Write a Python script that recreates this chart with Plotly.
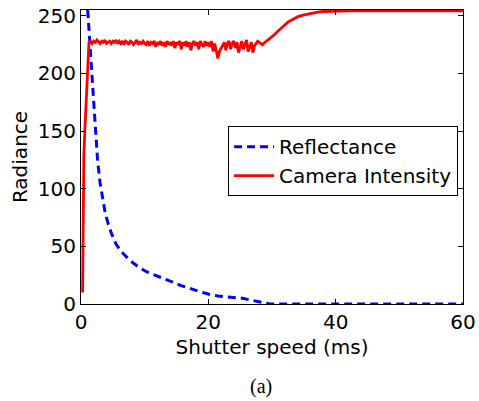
import plotly.graph_objects as go

# Reflectance (blue dashed)
refl_t = [1.05, 1.4, 1.7, 2.2, 2.6, 3.0, 3.4, 3.8, 4.3, 4.8, 5.5, 6.4, 7.3, 8.2, 9.2, 10.3,
          11.6, 12.9, 14.2, 15.5, 17.1, 18.7, 20.1, 21.5, 23.5, 25.4, 26.6, 27.8, 29.7, 45.0, 60.0]
refl_v = [255, 225, 200, 150, 125, 105, 91, 79, 69, 61, 52, 45, 40, 35.5, 31.5, 28,
          25, 22.5, 19.5, 16.4, 13.4, 10.6, 8.5, 7, 5.8, 4.9, 3.5, 2, 0, 0, 0]

# Camera intensity (red solid)
cam_t = [0.25, 0.3, 0.35, 0.45, 0.6, 0.8, 1.0, 1.15,
         1.25, 1.5, 1.75, 2.0, 2.25, 2.5, 2.75, 3.0, 3.25, 3.5, 3.75, 4.0, 4.25, 4.5, 4.75, 5.0,
         5.25, 5.5, 5.75, 6.0, 6.25, 6.5, 6.75, 7.0, 7.25, 7.5, 7.75, 8.0, 8.25, 8.5, 8.75, 9.0, 9.25, 9.5, 9.75, 10.0,
         10.25, 10.5, 10.75, 11.0, 11.25, 11.5, 11.75, 12.0, 12.25, 12.5, 12.75, 13.0, 13.25, 13.5, 13.75, 14.0, 14.25, 14.5, 14.75, 15.0,
         15.25, 15.5, 15.75, 16.0, 16.25, 16.5, 16.75, 17.0, 17.25, 17.5, 17.75, 18.0, 18.25, 18.5, 18.75, 19.0, 19.25, 19.5, 19.75, 20.0,
         20.25, 20.5, 20.75, 21.0, 21.25, 21.5, 21.75, 22.0, 22.25, 22.5, 22.75, 23.0, 23.25, 23.5, 23.75, 24.0, 24.25, 24.5, 24.75, 25.0,
         25.25, 25.5, 25.75, 26.0, 26.25, 26.5, 26.75, 27.0, 27.25, 27.5, 27.75, 28.0,
         28.5, 29.0, 29.5, 30.2, 31.0, 31.8, 32.5, 33.3, 34.0, 34.9, 36.0, 37.0, 38.0, 39.6, 42.0, 60.0]
cam_v = [10, 60, 100, 130, 150, 175, 200, 227,
         227, 228, 226, 228, 227, 229, 227, 226, 228, 227, 229, 226, 227, 228, 226, 228,
         227, 229, 226, 228, 226, 228, 225, 228, 227, 225, 228, 227, 225, 227, 229, 225, 227, 226, 228, 226,
         225, 228, 224, 227, 226, 228, 223, 227, 225, 228, 224, 227, 223, 228, 225, 227, 224, 228, 222, 227,
         225, 228, 221, 227, 224, 228, 223, 227, 220, 226, 228, 224, 227, 221, 228, 225, 223, 228, 224, 227,
         223, 228, 219, 226, 218, 213, 219, 222, 225, 227, 220, 226, 228, 221, 226, 228, 222, 227, 218, 224,
         228, 221, 226, 229, 219, 223, 227, 218, 224, 226, 228, 227,
         225, 227.5, 229.5, 232.7, 237, 241, 244.5, 247, 249, 250.6, 252, 253, 253.7, 254, 254.3, 254.3]

x_ticks = [0, 20, 40, 60]
y_ticks = [0, 50, 100, 150, 200, 250]

FONT = "DejaVu Sans, Arial, sans-serif"

fig = go.Figure()
fig.add_trace(go.Scatter(x=refl_t, y=refl_v, mode="lines", name="Reflectance",
                         line=dict(color="#0000FF", width=3, dash="8px,5px")))
fig.add_trace(go.Scatter(x=cam_t, y=cam_v, mode="lines", name="Camera Intensity",
                         line=dict(color="#FF0000", width=2.8)))

axis_common = dict(showline=True, linecolor="black", linewidth=1, mirror="ticks",
                   ticks="inside", ticklen=5, tickcolor="black", showgrid=False, zeroline=False,
                   automargin=False,
                   tickfont=dict(family=FONT, size=20, color="black"))

fig.update_xaxes(range=[0, 60], tickvals=x_ticks, ticktext=[str(v) for v in x_ticks],
                 title=dict(text="Shutter speed (ms)", font=dict(family=FONT, size=20, color="black"), standoff=6),
                 **axis_common)
fig.update_yaxes(range=[0, 255], tickvals=y_ticks, ticktext=[str(v) for v in y_ticks],
                 title=dict(text="Radiance", font=dict(family=FONT, size=20, color="black"), standoff=4),
                 **axis_common)

fig.update_layout(
    width=479, height=401,
    margin=dict(l=81, r=16, t=10, b=97),
    paper_bgcolor="white", plot_bgcolor="white",
    showlegend=True,
    legend=dict(x=0.385, y=0.605, xanchor="left", yanchor="top",
                bgcolor="white", bordercolor="black", borderwidth=1,
                font=dict(family=FONT, size=20, color="black"),
                tracegroupgap=0, itemwidth=40),
    annotations=[dict(text="(a)", xref="paper", yref="paper", x=0.47, y=-0.28,
                      xanchor="center", yanchor="middle", showarrow=False,
                      font=dict(family="Liberation Serif, Times New Roman, serif", size=20, color="black"))],
)

fig.write_html("out.html")
